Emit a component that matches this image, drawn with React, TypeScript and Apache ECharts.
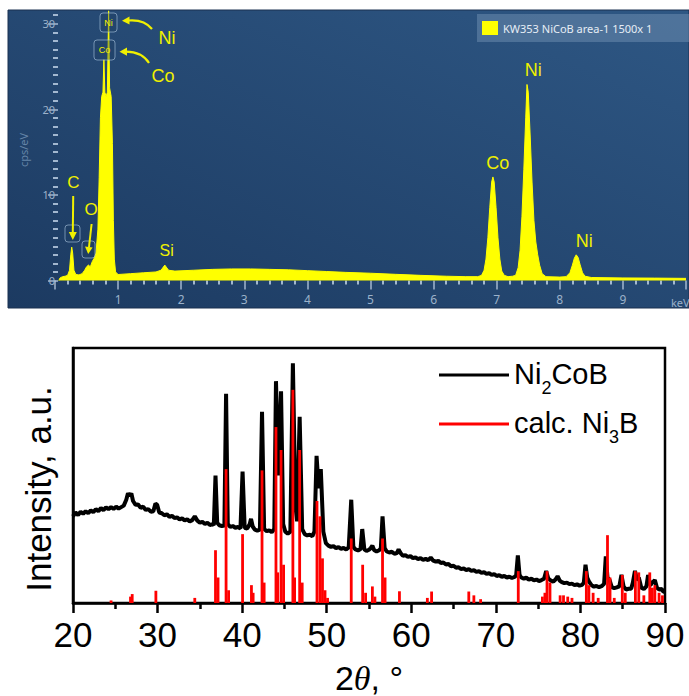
import React, { useEffect, useRef } from 'react';
import * as echarts from 'echarts';

// ---------- EDS spectrum (top panel) ----------
const edsName = 'KW353 NiCoB area-1 1500x 1';
const edsSpectrum: [number, number][] = [
  [0.06, 0], [0.08, 0.3], [0.12, 0.45], [0.16, 0.5], [0.2, 0.6], [0.23, 1.2], [0.25, 3.0], [0.265, 3.9],
  [0.28, 3.2], [0.3, 1.2], [0.33, 0.7], [0.38, 0.65], [0.43, 0.8], [0.47, 1.2], [0.5, 1.6], [0.53, 1.8],
  [0.56, 1.6], [0.59, 2.2], [0.62, 2.6], [0.65, 3.2], [0.68, 6], [0.7, 12], [0.72, 19], [0.74, 21.5],
  [0.76, 22], [0.775, 25.8], [0.79, 22], [0.81, 21.5], [0.83, 22], [0.85, 31.5], [0.865, 22.5], [0.89, 21.5],
  [0.91, 16], [0.925, 7], [0.94, 2.5], [0.96, 1.0], [1.0, 0.7], [1.2, 0.8], [1.4, 0.9], [1.6, 1.0],
  [1.68, 1.2], [1.74, 1.8], [1.8, 1.2], [1.9, 1.1], [2.2, 1.2], [2.5, 1.3], [2.8, 1.35], [3.1, 1.35],
  [3.4, 1.3], [3.7, 1.25], [4.0, 1.15], [4.3, 1.05], [4.6, 0.95], [5.0, 0.85], [5.4, 0.72], [5.8, 0.6],
  [6.2, 0.5], [6.5, 0.45], [6.7, 0.45], [6.76, 0.6], [6.8, 1.2], [6.83, 2.5], [6.86, 5], [6.89, 8.5],
  [6.92, 11.5], [6.94, 12.1], [6.96, 11.5], [6.99, 8.5], [7.02, 5], [7.05, 2.5], [7.08, 1.1], [7.12, 0.6],
  [7.18, 0.45], [7.25, 0.5], [7.3, 0.6], [7.34, 1.5], [7.37, 3.5], [7.4, 7.5], [7.43, 13], [7.46, 19],
  [7.48, 22.9], [7.5, 22], [7.53, 17], [7.56, 11.5], [7.59, 7], [7.62, 4.5], [7.65, 3], [7.68, 1.8],
  [7.72, 0.8], [7.78, 0.45], [8.0, 0.4], [8.1, 0.45], [8.16, 0.9], [8.2, 1.8], [8.23, 2.6], [8.26, 3.0],
  [8.29, 2.7], [8.32, 1.9], [8.36, 0.9], [8.4, 0.5], [8.5, 0.35], [9.0, 0.3], [9.5, 0.28], [10, 0.25],
];
const edsYTicks = [0, 10, 20, 30];
const edsYMinorTicks = [1, 2, 3, 4, 5, 6, 7, 8, 9, 11, 12, 13, 14, 15, 16, 17, 18, 19, 21, 22, 23, 24, 25, 26, 27, 28, 29, 31];

// ---------- XRD pattern (bottom panel) ----------
const xrdPattern: [number, number][] = [
  [20.0, 34], [20.3, 35.5], [20.6, 34.5], [20.9, 35.8], [21.2, 35], [21.5, 36], [21.8, 35.2], [22.1, 36.3],
  [22.4, 35.6], [22.7, 36.8], [23.0, 36], [23.3, 37.2], [23.6, 36.4], [23.9, 37.5], [24.2, 36.8], [24.5, 37.6],
  [24.8, 36.9], [25.1, 37.8], [25.4, 37], [25.7, 37.6], [26.0, 38.2], [26.3, 40.5], [26.5, 43], [26.7, 42],
  [26.9, 43], [27.1, 40], [27.4, 38.5], [27.7, 38.6], [28.0, 37.3], [28.3, 37.8], [28.6, 36.5], [28.9, 36.8],
  [29.2, 35.8], [29.5, 36], [29.75, 39], [29.95, 38.5], [30.2, 35.5], [30.5, 35.2], [30.8, 34.4], [31.1, 34.8],
  [31.4, 33.8], [31.7, 34.2], [32.0, 33.3], [32.3, 33.6], [32.6, 32.8], [32.9, 33.2], [33.2, 32.4], [33.5, 32.8],
  [33.8, 32], [34.1, 32.5], [34.4, 34], [34.7, 32.3], [35.0, 31.5], [35.3, 31.8], [35.6, 31], [35.9, 31.4],
  [36.2, 30.6], [36.5, 30.9], [36.65, 30.5], [36.85, 50], [37.05, 31.5], [37.3, 30.5], [37.6, 30.2], [37.9, 30.4],
  [38.1, 82], [38.3, 31], [38.6, 29.8], [38.9, 30.2], [39.2, 29.5], [39.5, 29.8], [39.8, 29.2], [40.05, 51.5],
  [40.3, 29.5], [40.6, 29.2], [40.9, 31], [41.05, 33], [41.25, 30], [41.5, 28.8], [41.8, 28.4], [42.1, 28.8],
  [42.35, 75], [42.6, 29], [42.9, 28.2], [43.2, 28.5], [43.5, 27.8], [43.8, 29], [44.0, 87], [44.3, 50],
  [44.6, 83], [44.85, 31], [45.1, 28], [45.4, 27.2], [45.7, 28], [46.0, 94], [46.3, 38], [46.5, 32],
  [46.8, 73], [47.1, 29], [47.4, 27], [47.7, 26.5], [48.0, 26.8], [48.3, 26.2], [48.55, 28], [48.8, 57.7],
  [49.05, 45], [49.3, 52.5], [49.6, 28], [49.9, 23.5], [50.2, 22.5], [50.5, 22], [50.8, 22.3], [51.1, 21.5],
  [51.4, 21.9], [51.7, 21.2], [52.0, 21.6], [52.3, 21], [52.6, 21.8], [52.9, 40.5], [53.15, 22], [53.4, 21],
  [53.7, 20.6], [54.0, 21.2], [54.2, 29], [54.45, 21], [54.7, 20.4], [55.0, 20.9], [55.2, 21.5], [55.4, 22.5],
  [55.6, 20.8], [55.9, 20.2], [56.2, 20.7], [56.4, 21.5], [56.6, 34], [56.85, 21.5], [57.1, 20.2], [57.4, 19.8],
  [57.7, 20.1], [58.0, 19.3], [58.3, 19.6], [58.5, 21], [58.75, 19.5], [59.0, 18.5], [59.3, 18.8], [59.6, 18.1],
  [59.9, 18.4], [60.2, 17.6], [60.5, 17.9], [60.8, 17.2], [61.1, 17.6], [61.4, 16.9], [61.7, 17.3], [62.0, 16.8],
  [62.3, 17.8], [62.6, 16.6], [62.9, 16.2], [63.2, 16.5], [63.5, 15.7], [63.8, 15.9], [64.1, 15.1], [64.4, 15.3],
  [64.7, 14.4], [65.0, 14.6], [65.3, 13.8], [65.6, 14], [65.9, 13.3], [66.2, 13.6], [66.5, 12.9], [66.8, 13.3],
  [67.1, 12.6], [67.4, 12.9], [67.7, 12.2], [68.0, 12.5], [68.3, 11.8], [68.6, 12.1], [68.9, 11.4], [69.2, 11.7],
  [69.5, 11], [69.8, 11.3], [70.1, 10.6], [70.4, 10.9], [70.7, 10.3], [71.0, 10.6], [71.3, 10], [71.6, 10.3],
  [71.9, 9.8], [72.2, 10.2], [72.4, 10.8], [72.6, 18.7], [72.8, 11], [73.0, 10], [73.3, 9.6], [73.6, 9.9],
  [73.9, 9.2], [74.2, 9.5], [74.5, 8.9], [74.8, 9.2], [75.1, 8.6], [75.4, 9], [75.7, 9.5], [75.95, 12.5],
  [76.2, 9.6], [76.5, 8.8], [76.8, 8.4], [77.05, 9.2], [77.3, 10.5], [77.55, 8.8], [77.8, 8.2], [78.1, 7.8],
  [78.4, 8], [78.7, 7.4], [79.0, 7.6], [79.3, 7], [79.6, 7.3], [79.9, 6.8], [80.2, 7.1], [80.4, 8],
  [80.6, 15], [80.8, 10], [81.0, 8.5], [81.3, 7], [81.6, 6.4], [81.9, 6.7], [82.2, 6.2], [82.5, 6.6],
  [82.8, 7.5], [83.0, 18.3], [83.2, 10], [83.45, 9], [83.7, 6.2], [84.0, 5.8], [84.3, 6.1], [84.6, 6.5],
  [84.85, 11], [85.1, 6.5], [85.4, 5.3], [85.7, 5.6], [86.0, 5.6], [86.2, 8], [86.45, 12.6], [86.7, 9],
  [86.9, 10], [87.2, 6], [87.5, 5.5], [87.8, 6.5], [88.0, 11], [88.25, 7], [88.5, 8], [88.8, 9],
  [89.05, 6], [89.3, 5.3], [89.6, 5.5], [89.8, 4.5], [90.0, 4.2],
];
const calcNi3B: [number, number][] = [
  [24.5, 1], [26.8, 2.5], [27.0, 3.5], [29.8, 4.8], [34.4, 2], [36.85, 20.7], [37.15, 10], [38.1, 52.5],
  [38.4, 5], [40.05, 27], [41.1, 7], [41.3, 4], [42.35, 52], [42.6, 8], [44.0, 69], [44.2, 12],
  [44.6, 60], [44.9, 15], [46.0, 83.6], [46.2, 10], [46.8, 60], [47.1, 8], [48.85, 40], [49.2, 34],
  [49.5, 17.5], [49.8, 5], [50.1, 2], [52.9, 25.3], [54.25, 15], [54.6, 4], [55.4, 6.5], [55.7, 2.5],
  [56.6, 25.3], [56.9, 10], [58.6, 4.6], [61.9, 2], [62.4, 4.5], [66.8, 4.5], [67.4, 3], [68.2, 1.5],
  [72.65, 12.5], [75.5, 2.5], [75.8, 4], [76.05, 12.5], [76.4, 8], [77.6, 3], [78.0, 3], [78.5, 2.5],
  [79.0, 2], [80.7, 12.5], [81.0, 7], [81.5, 4], [82.1, 2], [83.2, 26.6], [83.5, 10], [84.0, 2],
  [84.95, 11], [85.3, 4], [86.5, 12.5], [86.9, 12], [87.5, 3], [88.2, 12], [88.5, 6], [88.8, 7],
  [89.3, 4], [89.7, 3],
];
const xrdNames = ['Ni2CoB', 'calc. Ni3B'];

export default function App() {
  const ref = useRef<HTMLDivElement>(null);
  useEffect(() => {
    document.body.style.margin = '0';
    const chart = echarts.init(ref.current!, null, { renderer: 'svg' });
    const yellow = '#ffff00';
    const labelYellow = '#f0f000';
    const tickCol = 'rgba(195,212,232,0.8)';
    const labelCol = '#9cb2ca';
    const arial = 'Liberation Sans';
    const txt = (text: string, x: number, y: number, size: number, color = labelYellow, extra: any = {}) => ({
      type: 'text', x, y, z: 100, ...extra,
      style: { text, fill: color, fontSize: size, fontFamily: arial, align: 'center', verticalAlign: 'middle' },
    });
    const box = (x: number, y: number, w: number, h: number) => ({
      type: 'rect', z: 99, shape: { x, y, width: w, height: h, r: 3 },
      style: { fill: 'rgba(30,60,95,0.35)', stroke: 'rgba(175,200,225,0.6)', lineWidth: 1 },
    });
    const seg = (x1: number, y1: number, x2: number, y2: number) => ({
      type: 'line', z: 100, shape: { x1, y1, x2, y2 }, style: { stroke: labelYellow, lineWidth: 2 },
    });
    const head = (pts: number[][]) => ({ type: 'polygon', z: 100, shape: { points: pts }, style: { fill: labelYellow } });
    const curve = (x1: number, y1: number, cx: number, cy: number, x2: number, y2: number) => ({
      type: 'bezierCurve', z: 100, shape: { x1, y1, cpx1: cx, cpy1: cy, x2, y2 },
      style: { stroke: labelYellow, lineWidth: 2.2, fill: null },
    });

    const option: any = {
      animation: false,
      backgroundColor: '#ffffff',
      legend: [
        {
          data: [{ name: edsName, icon: 'rect' }], left: 477, top: 14, itemWidth: 16, itemHeight: 14,
          backgroundColor: 'rgba(120,150,185,0.45)', padding: [7, 40, 7, 5], selectedMode: false,
          textStyle: { color: '#e6edf5', fontSize: 11, fontFamily: 'Noto Sans' },
        },
        {
          data: xrdNames.map((n) => ({ name: n, icon: 'rect' })), left: 439, top: 359, orient: 'vertical',
          itemWidth: 70, itemHeight: 3, itemGap: 11, padding: 0, selectedMode: false,
          formatter: (n: string) => (n === 'Ni2CoB' ? '{a|Ni}{s|2}{a|CoB}' : '{a|calc. Ni}{s|3}{a|B}'),
          textStyle: {
            rich: {
              a: { fontSize: 29, fontFamily: arial, color: '#000', verticalAlign: 'top', lineHeight: 32 },
              s: { fontSize: 18, fontFamily: arial, color: '#000', verticalAlign: 'top', lineHeight: 18, padding: [20, 0, 0, 0] },
            },
          },
        },
      ],
      grid: [
        { left: 55, top: 10, width: 640, height: 270.5 },
        { left: 73, top: 348, width: 592, height: 257, show: true, borderColor: '#000', borderWidth: 2.5, backgroundColor: 'transparent' },
      ],
      xAxis: [
        {
          gridIndex: 0, type: 'value', min: 0, max: 10, interval: 1,
          axisLine: { show: false }, splitLine: { show: false },
          axisTick: { show: true, length: 9, lineStyle: { color: tickCol, width: 1.5 } },
          minorTick: { show: true, splitNumber: 5, length: 4, lineStyle: { color: tickCol, width: 2 } },
          axisLabel: { color: labelCol, fontSize: 12, margin: 13, fontFamily: 'Noto Sans', formatter: (v: number) => (v > 0 && v < 10 ? String(v) : '') },
        },
        {
          gridIndex: 1, type: 'value', min: 20, max: 90, interval: 10,
          axisLine: { lineStyle: { color: '#000', width: 2.5 } }, splitLine: { show: false },
          axisTick: { length: 10, lineStyle: { color: '#000', width: 2.5 } },
          minorTick: { show: true, splitNumber: 2, length: 6, lineStyle: { color: '#000', width: 2.5 } },
          axisLabel: { color: '#000', fontSize: 35, fontFamily: arial, margin: 14 },
          name: '{a|2}{b|θ}{a|, °}', nameLocation: 'middle', nameGap: 58,
          nameTextStyle: {
            rich: {
              a: { fontSize: 34, fontFamily: arial, color: '#000' },
              b: { fontSize: 34, fontFamily: 'Liberation Serif', fontStyle: 'italic', color: '#000' },
            },
          },
        },
      ],
      yAxis: [
        {
          gridIndex: 0, type: 'value', min: 0, max: 31.6, offset: -3, position: 'left',
          axisLine: { show: false }, splitLine: { show: false },
          axisTick: { show: true, length: 10, customValues: edsYTicks, lineStyle: { color: tickCol, width: 1.5 } },
          axisLabel: { color: labelCol, fontSize: 11, margin: 3, fontFamily: 'Noto Sans', customValues: edsYTicks },
        },
        {
          gridIndex: 0, type: 'value', min: 0, max: 31.6, offset: -3, position: 'left',
          axisLine: { show: false }, splitLine: { show: false },
          axisTick: { show: true, length: 5, customValues: edsYMinorTicks, lineStyle: { color: tickCol, width: 2 } },
          axisLabel: { show: false },
        },
        {
          gridIndex: 1, type: 'value', min: 0, max: 100,
          axisLine: { show: true, lineStyle: { color: '#000', width: 2.5 } },
          axisTick: { show: false }, axisLabel: { show: false }, splitLine: { show: false },
        },
      ],
      series: [
        {
          type: 'line', name: edsName, xAxisIndex: 0, yAxisIndex: 0, data: edsSpectrum, symbol: 'none',
          lineStyle: { color: yellow, width: 1 }, itemStyle: { color: yellow }, areaStyle: { color: yellow, opacity: 1 }, z: 3,
        },
        {
          type: 'line', name: xrdNames[0], xAxisIndex: 1, yAxisIndex: 2, data: xrdPattern, symbol: 'none',
          lineStyle: { color: '#000', width: 4 }, itemStyle: { color: '#000' }, z: 3,
        },
        {
          type: 'bar', name: xrdNames[1], xAxisIndex: 1, yAxisIndex: 2, data: calcNi3B, barWidth: 2.8,
          itemStyle: { color: '#ff0000' }, z: 4,
        },
      ],
      graphic: [
        {
          type: 'rect', z: -10, shape: { x: 8, y: 10, width: 681, height: 298 },
          style: {
            fill: new echarts.graphic.LinearGradient(1, 0, 0, 1, [
              { offset: 0, color: '#2e5784' }, { offset: 1, color: '#1c3a61' },
            ]),
            stroke: '#1a3050', lineWidth: 1,
          },
        },
        { type: 'text', x: 23, y: 150, rotation: Math.PI / 2, z: 100, style: { text: 'cps/eV', fill: '#6585a8', fontSize: 11, fontFamily: 'Noto Sans', align: 'center', verticalAlign: 'middle' } },
        { type: 'text', x: 671, y: 302, z: 100, style: { text: 'keV', fill: labelCol, fontSize: 11, fontFamily: 'Noto Sans', align: 'left', verticalAlign: 'middle' } },
        { type: 'text', x: 38, y: 489, rotation: Math.PI / 2, z: 100, style: { text: 'Intensity, a.u.', fill: '#000', fontSize: 35, fontFamily: arial, align: 'center', verticalAlign: 'middle' } },
        // callout boxes
        box(100, 13, 17, 19), box(94, 40, 21, 20), box(65, 225, 15, 17), box(82, 241, 13, 17),
        txt('Ni', 108.5, 22.5, 9), txt('Co', 104.5, 50, 9),
        // labels
        txt('Ni', 167, 38, 18), txt('Co', 163, 76, 18),
        txt('C', 73.3, 182, 17), txt('O', 91, 209, 17), txt('Si', 166.7, 250, 16),
        txt('Co', 497.7, 163, 18), txt('Ni', 533.3, 70, 18), txt('Ni', 584.3, 241, 18),
        // arrows
        curve(152, 29, 144, 19, 128, 20.5), head([[122, 20.7], [129.5, 16.5], [129.5, 24.5]]),
        curve(149, 63, 142, 52, 126, 51.7), head([[119.5, 51.7], [127, 47.5], [127, 55.7]]),
        seg(73.2, 196, 72.8, 233), head([[68.8, 232], [76.8, 232], [72.8, 240]]),
        seg(91.6, 224, 89, 247), head([[85, 246.5], [92.6, 247.5], [88.2, 254]]),
      ],
    };
    chart.setOption(option);
    return () => chart.dispose();
  }, []);
  return <div ref={ref} style={{ position: 'fixed', left: 0, top: 0, width: 689, height: 696 }} />;
}
